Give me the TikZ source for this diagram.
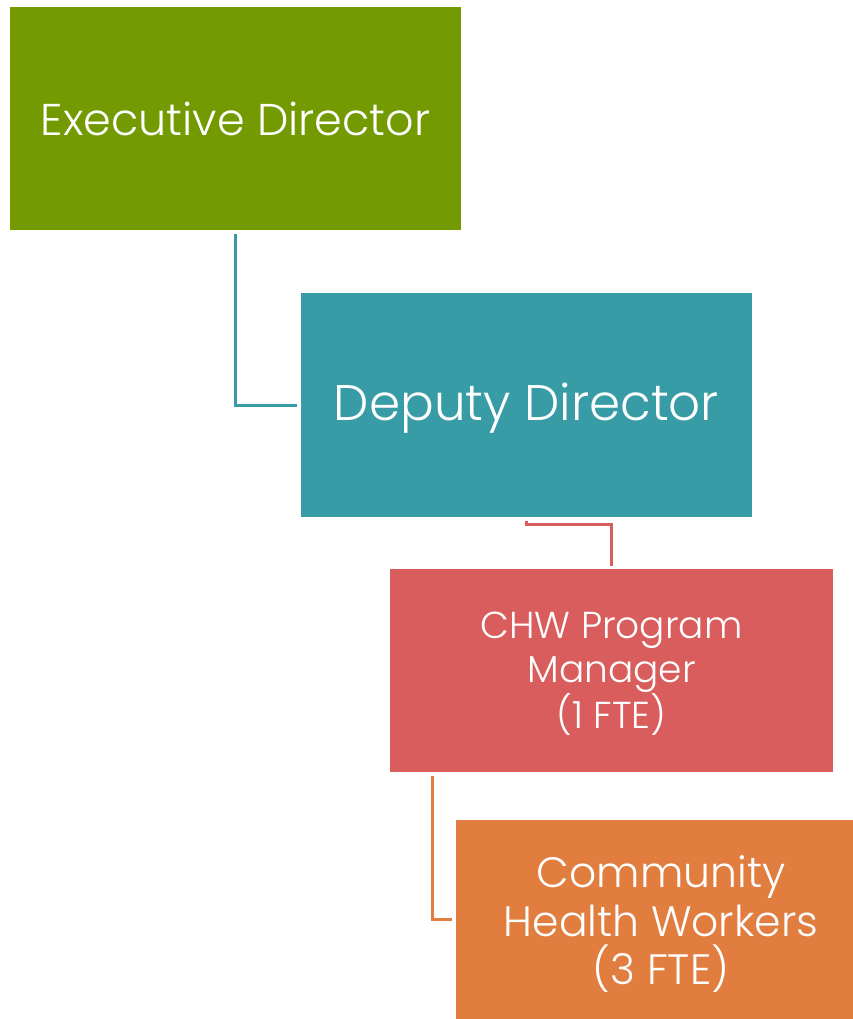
\documentclass[tikz,border=0pt]{standalone}
\usepackage{fontspec}
\setmainfont{Poppins}[UprightFont=* Light]
\definecolor{cgreen}{HTML}{739A00}
\definecolor{cteal}{HTML}{389CA7}
\definecolor{cred}{HTML}{D95D5D}
\definecolor{corange}{HTML}{E07D3F}
\tikzset{
  box/.style={rectangle, inner sep=0pt, text=white, align=center},
  conn/.style={line width=3pt},
}
\begin{document}
\begin{tikzpicture}[x=1pt,y=-1pt]
\useasboundingbox[fill=white] (0,0) rectangle (853,1019);
\node[box, fill=cgreen, minimum width=451pt, minimum height=223pt] (exec) at (235.5,118.5) {};
\node[box, fill=cteal, minimum width=451pt, minimum height=224pt] (dep) at (526.5,405) {};
\node[box, fill=cred, minimum width=443pt, minimum height=203pt] (chw) at (611.5,670.5) {};
\node[box, fill=corange, minimum width=397pt, minimum height=199pt] (cw) at (654.5,919.5) {};
\node[box, font=\fontsize{44.5}{52}\selectfont] (exect) at (235.5,119) {Executive Director};
\node[box, font=\fontsize{50}{58}\selectfont] (dept) at (526.5,408) {Deputy Director};
\node[box, font=\fontsize{37.5}{43.5}\selectfont] (chwt) at (611.5,674) {CHW Program\\Manager\\(1 FTE)};
\node[box, font=\fontsize{42.5}{48.5}\selectfont] (cwt) at (661,924) {Community\\Health Workers\\(3 FTE)};
\draw[conn, cteal, shorten <=4pt, shorten >=4pt] (exec.south) |- (dep.west);
\draw[conn, cred, shorten <=4pt, shorten >=3pt] (dep.south) -- ++(0,7) -| (chw.north);
\draw[conn, corange, shorten <=4pt, shorten >=4pt] ([xshift=43pt]chw.south west) |- (cw.west);
\end{tikzpicture}
\end{document}
